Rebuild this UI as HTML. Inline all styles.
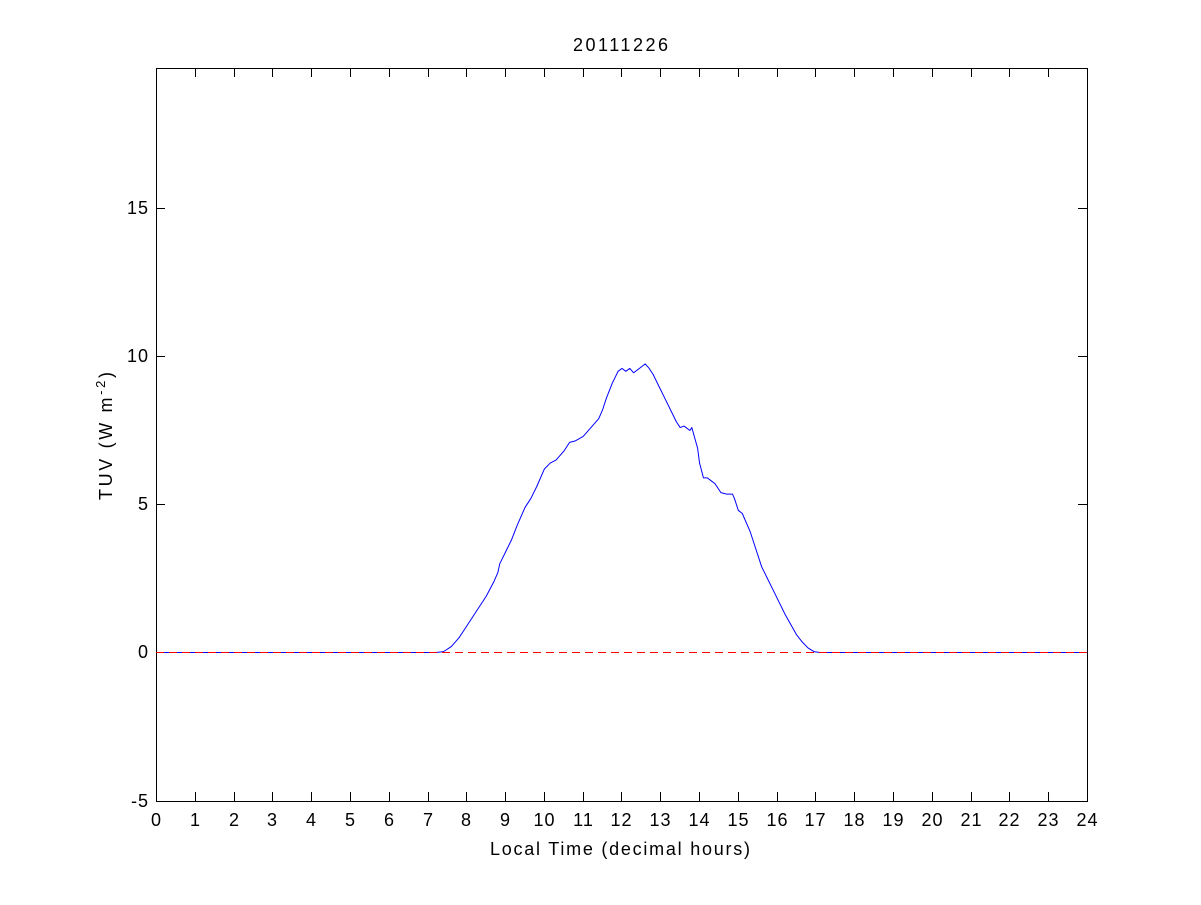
<!DOCTYPE html>
<html><head><style>
body{margin:0;background:#fff;}
svg text{font-family:"Liberation Sans",Arial,sans-serif;font-size:18px;fill:#000;}
</style></head><body>
<svg width="1201" height="900" viewBox="0 0 1201 900" xmlns="http://www.w3.org/2000/svg">
<rect x="0" y="0" width="1201" height="900" fill="#fff"/>
<rect x="156.5" y="68.5" width="931" height="733" fill="#fff" stroke="#000" stroke-width="1"/>
<g id="xt" stroke="#000" stroke-width="1"></g>
<g id="xl" text-anchor="middle" letter-spacing="1"></g>
<g stroke="#000" stroke-width="1">
<line x1="156" y1="208.5" x2="165" y2="208.5"/><line x1="1087" y1="208.5" x2="1078" y2="208.5"/>
<line x1="156" y1="356.5" x2="165" y2="356.5"/><line x1="1087" y1="356.5" x2="1078" y2="356.5"/>
<line x1="156" y1="504.5" x2="165" y2="504.5"/><line x1="1087" y1="504.5" x2="1078" y2="504.5"/>
<line x1="156" y1="652.5" x2="165" y2="652.5"/><line x1="1087" y1="652.5" x2="1078" y2="652.5"/>
</g>
<g text-anchor="end" letter-spacing="1">
<text x="149" y="214">15</text><text x="149" y="362">10</text><text x="149" y="510">5</text><text x="149" y="658">0</text><text x="149" y="807">-5</text>
</g>
<g transform="translate(156.5,652.5) scale(38.79,-29.6)">
<polyline fill="none" stroke="#00f" stroke-width="1" vector-effect="non-scaling-stroke" stroke-linejoin="round" points="0,0 7.2,0 7.4,0.03 7.6,0.2 7.8,0.5 8.0,0.9 8.2,1.3 8.5,1.9 8.7,2.4 8.8,2.7 8.85,3.0 9.0,3.4 9.15,3.8 9.3,4.3 9.5,4.9 9.65,5.2 9.8,5.6 10.0,6.2 10.15,6.4 10.3,6.5 10.5,6.8 10.65,7.1 10.8,7.15 11.0,7.3 11.2,7.6 11.4,7.9 11.5,8.2 11.6,8.6 11.75,9.1 11.9,9.5 12.0,9.6 12.1,9.5 12.2,9.6 12.3,9.45 12.45,9.6 12.6,9.75 12.7,9.6 12.8,9.4 12.95,9.0 13.1,8.6 13.25,8.2 13.4,7.8 13.5,7.6 13.6,7.65 13.75,7.5 13.8,7.6 13.95,6.9 14.0,6.4 14.1,5.9 14.2,5.9 14.3,5.8 14.4,5.7 14.55,5.4 14.7,5.35 14.85,5.35 14.9,5.2 15.0,4.8 15.1,4.7 15.3,4.1 15.45,3.5 15.6,2.9 15.75,2.5 15.9,2.1 16.05,1.7 16.2,1.3 16.35,0.95 16.5,0.6 16.65,0.35 16.8,0.15 16.95,0.03 17.1,0 24,0"/>
</g>
<line x1="156" y1="652.5" x2="1087" y2="652.5" stroke="#f00" stroke-width="1" stroke-dasharray="8,5"/>
<text x="573" y="51" textLength="95" lengthAdjust="spacing">20111226</text>
<text x="490" y="855" textLength="260" lengthAdjust="spacing">Local Time (decimal hours)</text>
<text transform="translate(112,500) rotate(-90)" textLength="128" lengthAdjust="spacing">TUV (W m<tspan dy="-7" font-size="13">-2</tspan><tspan dy="7">)</tspan></text>
</svg>
<script>
var xt=document.getElementById('xt'),xl=document.getElementById('xl'),ns='http://www.w3.org/2000/svg';
for(var h=0;h<=24;h++){var x=Math.round(156+h*38.79)+0.5;
var a=document.createElementNS(ns,'line');a.setAttribute('x1',x);a.setAttribute('x2',x);a.setAttribute('y1',801);a.setAttribute('y2',792);xt.appendChild(a);
var b=document.createElementNS(ns,'line');b.setAttribute('x1',x);b.setAttribute('x2',x);b.setAttribute('y1',68);b.setAttribute('y2',77);xt.appendChild(b);
var t=document.createElementNS(ns,'text');t.setAttribute('x',x);t.setAttribute('y',826);t.textContent=h;xl.appendChild(t);}
</script>
</body></html>
